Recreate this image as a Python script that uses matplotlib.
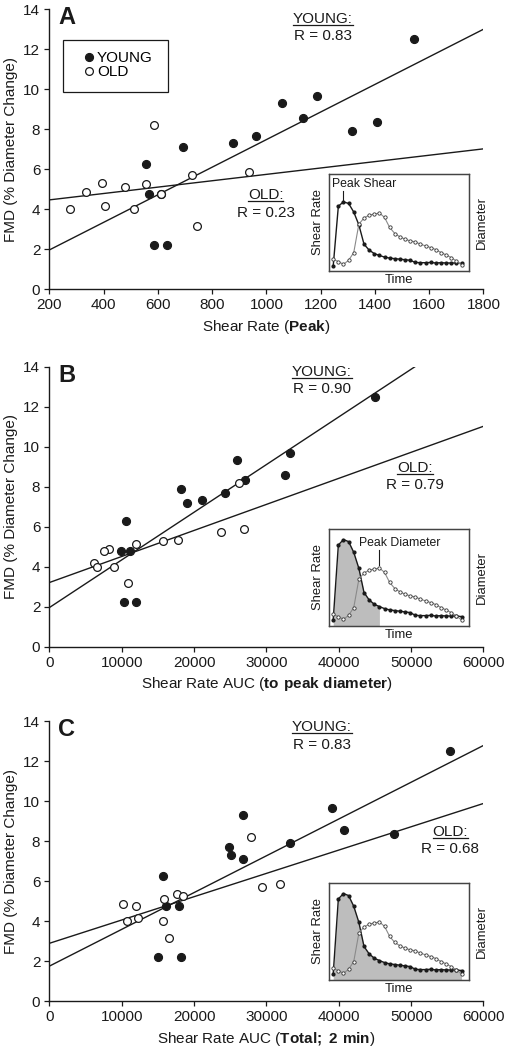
import matplotlib
matplotlib.use("Agg")
import matplotlib.pyplot as plt
import matplotlib.transforms as mtransforms
from matplotlib.patches import Rectangle
import numpy as np

plt.rcParams['font.family'] = ['Liberation Sans', 'DejaVu Sans']
plt.rcParams['mathtext.fontset'] = 'custom'
plt.rcParams['mathtext.rm'] = 'Liberation Sans'
plt.rcParams['mathtext.bf'] = 'Liberation Sans:bold'

INK = '#1a1a1a'

# ---- panel A: peak shear rate ----
a_young_x = [1544, 1187, 1057, 1136, 1409, 1316, 963, 878, 693, 556, 567, 610, 586, 635]
a_young_y = [12.5, 9.68, 9.32, 8.57, 8.35, 7.9, 7.68, 7.33, 7.13, 6.27, 4.75, 4.75, 2.22, 2.22]
a_old_x = [587, 936, 725, 554, 394, 479, 335, 610, 403, 276, 511, 742]
a_old_y = [8.2, 5.87, 5.72, 5.27, 5.33, 5.13, 4.88, 4.75, 4.17, 4.0, 4.0, 3.15]

# ---- panel B: shear rate AUC to peak diameter ----
b_young_x = [44954, 33231, 25938, 32585, 27092, 18138, 24323, 21138, 18969, 10569, 9877, 11123, 10338, 11908]
b_young_y = [12.5, 9.68, 9.31, 8.58, 8.35, 7.9, 7.7, 7.32, 7.17, 6.27, 4.79, 4.76, 2.23, 2.23]
b_old_x = [26169, 26862, 23723, 17723, 15646, 11954, 8169, 7523, 6185, 6600, 8862, 10892]
b_old_y = [8.2, 5.89, 5.72, 5.35, 5.27, 5.14, 4.87, 4.77, 4.19, 3.99, 4.0, 3.18]

# ---- panel C: total shear rate AUC (2 min) ----
c_young_x = [55346, 39124, 26728, 40783, 47604, 33318, 24793, 25161, 26820, 15668, 16129, 17880, 15023, 18249]
c_young_y = [12.5, 9.67, 9.31, 8.57, 8.34, 7.89, 7.69, 7.31, 7.12, 6.26, 4.76, 4.76, 2.21, 2.21]
c_old_x = [27926, 31843, 29447, 17696, 18525, 15853, 10230, 12028, 12258, 10691, 15760, 16498]
c_old_y = [8.21, 5.88, 5.71, 5.34, 5.26, 5.11, 4.88, 4.76, 4.16, 4.0, 4.0, 3.16]

# regression lines (intercept, slope) and R values
fit_young = [(0.591, 0.006894), (1.96, 2.3824e-4), (1.76, 1.8383e-4)]
fit_old = [(4.151, 0.001594), (3.21, 1.3017e-4), (2.90, 1.165e-4)]
r_young = ['0.83', '0.90', '0.83']
r_old = ['0.23', '0.79', '0.68']

# schematic inset curves (arbitrary units)
inset_shear = [6.5, 83.4, 89.0, 86.9, 75.9, 59.3, 34.5, 26.9, 22.4, 20.0, 17.9, 16.6, 15.9,
               15.2, 14.5, 13.8, 11.0, 10.7, 10.7, 11.0, 10.3, 10.7, 10.3, 10.3, 10.3, 9.7]
inset_diam = [12.1, 9.7, 6.9, 11.0, 19.0, 48.3, 54.5, 57.6, 58.6, 59.7, 55.2, 44.8, 38.6,
              35.2, 32.8, 31.0, 30.0, 27.6, 25.9, 24.1, 22.1, 19.0, 16.6, 13.8, 10.3, 6.2]

letters = ['A', 'B', 'C']
xlabels = [r'Shear Rate ($\mathbf{Peak}$)',
           r'Shear Rate AUC ($\mathbf{to\ peak\ diameter}$)',
           r'Shear Rate AUC ($\mathbf{Total;}$ $\mathbf{2\ min}$)']
xlims = [(200, 1800), (0, 60000), (0, 60000)]
xticks = [np.arange(200, 1801, 200), np.arange(0, 60001, 10000), np.arange(0, 60001, 10000)]
young_sets = [(a_young_x, a_young_y), (b_young_x, b_young_y), (c_young_x, c_young_y)]
old_sets = [(a_old_x, a_old_y), (b_old_x, b_old_y), (c_old_x, c_old_y)]

# layout (figure / axes fractions)
ax_bottoms = [0.7245, 0.3841, 0.0464]
inset_bottoms = [0.7419, 0.4038, 0.0667]
young_pos = [(0.630, 0.952, 0.945, 0.889), (0.627, 0.968, 0.960, 0.905), (0.628, 0.966, 0.958, 0.900)]
old_pos = [(0.498, 0.3225, 0.315, 0.259), (0.842, 0.6235, 0.615, 0.562), (0.924, 0.590, 0.583, 0.528)]

fig = plt.figure(figsize=(5.06, 10.5), dpi=100)

underlines = []
for i in range(3):
    ax = fig.add_axes([0.0978, ax_bottoms[i], 0.8577, 0.2667])
    yx, yy = young_sets[i]
    ox, oy = old_sets[i]

    # regression lines
    xs = np.array(xlims[i], dtype=float)
    for b0, b1 in (fit_young[i], fit_old[i]):
        ax.plot(xs, b0 + b1 * xs, color=INK, lw=1.0, zorder=2)

    hy, = ax.plot(yx, yy, 'o', ms=5.8, mfc=INK, mec=INK, mew=0.8, ls='none',
                  zorder=3, label='YOUNG')
    ho, = ax.plot(ox, oy, 'o', ms=5.6, mfc='white', mec=INK, mew=0.9, ls='none',
                  zorder=4, label='OLD')

    ax.set_xlim(*xlims[i])
    ax.set_ylim(0, 14)
    ax.set_xticks(xticks[i])
    ax.set_yticks(np.arange(0, 15, 2))
    for s in ('top', 'right'):
        ax.spines[s].set_visible(False)
    for s in ('left', 'bottom'):
        ax.spines[s].set_color(INK)
        ax.spines[s].set_linewidth(1.0)
    ax.tick_params(direction='out', length=3.6, width=0.9, colors=INK,
                   labelsize=11, pad=3)
    ax.set_xlabel(xlabels[i], fontsize=11, color=INK, labelpad=4)
    ax.set_ylabel('FMD (% Diameter Change)', fontsize=11, color=INK, labelpad=4)

    ax.text(0.02, 0.946, letters[i], transform=ax.transAxes, fontsize=17,
            fontweight='bold', color=INK, ha='left', va='baseline')

    # R annotations
    for (cx, hy_, uy, ry), head, r in ((young_pos[i], 'YOUNG:', r_young[i]),
                                      (old_pos[i], 'OLD:', r_old[i])):
        t = ax.text(cx, hy_, head, transform=ax.transAxes, fontsize=11,
                    color=INK, ha='center', va='baseline')
        ax.text(cx, ry, 'R = ' + r, transform=ax.transAxes, fontsize=11,
                color=INK, ha='center', va='baseline')
        underlines.append((ax, t, uy))

    if i == 0:
        ax.add_patch(Rectangle((0.032, 0.706), 0.242, 0.184, transform=ax.transAxes,
                               fill=False, edgecolor=INK, lw=0.9, zorder=5))
        ax.legend(handles=[hy, ho], loc='center left', bbox_to_anchor=(0.081, 0.80),
                  frameon=False, fontsize=11, handlelength=0.6, handletextpad=0.2,
                  labelspacing=0.0, borderpad=0, borderaxespad=0)

    # schematic inset
    ins = fig.add_axes([0.6494, inset_bottoms[i], 0.2765, 0.0925])
    ind = ins.twinx()
    t_idx = np.arange(len(inset_shear))
    ins.set_xlim(-0.9, len(inset_shear) - 1 + 1.36)
    ins.set_ylim(0, 125 if i == 0 else 100)
    ind.set_ylim(0, 100)
    ipk_s = int(np.argmax(inset_shear))
    ipk_d = int(np.argmax(inset_diam))
    if i == 1:
        ins.fill_between(t_idx[:ipk_d + 1], 0, np.array(inset_shear)[:ipk_d + 1],
                         color='#bdbdbd', lw=0, zorder=1)
    elif i == 2:
        ins.fill_between(t_idx, 0, inset_shear, color='#bdbdbd', lw=0, zorder=1)
    ins.plot(t_idx, inset_shear, '-o', color=INK, lw=1.0, ms=2.0, zorder=3)
    ind.plot(t_idx, inset_diam, '-o', color='#8a8a8a', lw=0.8, ms=2.4,
             mfc='white', mec='#333333', mew=0.6, zorder=3)
    for a in (ins, ind):
        a.set_xticks([])
        a.set_yticks([])
        for s in a.spines.values():
            s.set_color('#444444')
            s.set_linewidth(0.9)
    ins.set_ylabel('Shear Rate', fontsize=9.4, color=INK, labelpad=3)
    ind.set_ylabel('Diameter', fontsize=9.4, color=INK, labelpad=5)
    ins.set_xlabel('Time', fontsize=9.4, color=INK, labelpad=2)

    blend = mtransforms.blended_transform_factory(ins.transData, ins.transAxes)
    if i == 0:
        ins.text(0.257, 0.869, 'Peak Shear', transform=ins.transAxes, fontsize=8.8,
                 color=INK, ha='center', va='baseline')
        ins.plot([ipk_s, ipk_s], [0.734, 0.828], transform=blend, color=INK, lw=0.8)
    elif i == 1:
        ins.text(0.508, 0.821, 'Peak Diameter', transform=ins.transAxes, fontsize=8.8,
                 color=INK, ha='center', va='baseline')
        ins.plot([ipk_d, ipk_d], [0.628, 0.786], transform=blend, color=INK, lw=0.8)

# underline the group headers
fig.canvas.draw()
renderer = fig.canvas.get_renderer()
for ax, t, uy in underlines:
    bb = t.get_window_extent(renderer)
    inv = ax.transAxes.inverted()
    (x0, _), (x1, _) = inv.transform([[bb.x0, bb.y0], [bb.x1, bb.y0]])
    ax.plot([x0, x1], [uy, uy], transform=ax.transAxes, color=INK, lw=0.9,
            clip_on=False)

fig.savefig('out.png', dpi=100)
